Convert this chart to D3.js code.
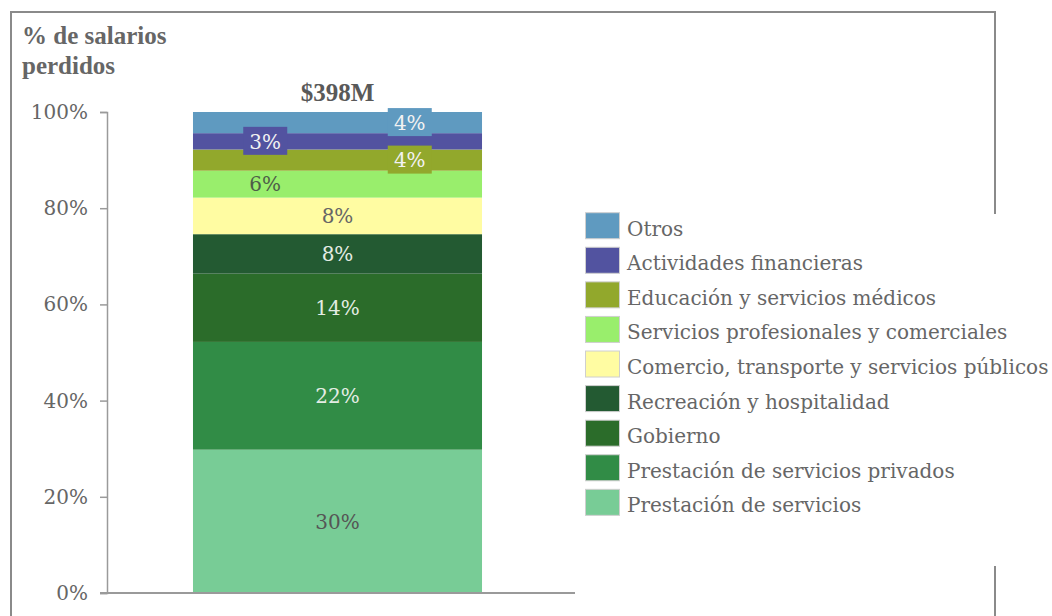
<!DOCTYPE html>
<html>
<head>
<meta charset="utf-8">
<script src="https://cdn.jsdelivr.net/npm/d3@7"></script>
<style>
  html, body { margin: 0; padding: 0; background: #fff; }
  svg { display: block; }
  text { font-family: "DejaVu Serif", "Liberation Serif", serif; }
  .bold { font-family: "Liberation Serif", "DejaVu Serif", serif; font-weight: bold; }
</style>
</head>
<body>
<svg id="chart" width="1052" height="616"></svg>
<script>
// ---- data (bottom of stack first) ----
const categories = [
  "Prestación de servicios",
  "Prestación de servicios privados",
  "Gobierno",
  "Recreación y hospitalidad",
  "Comercio, transporte y servicios públicos",
  "Servicios profesionales y comerciales",
  "Educación y servicios médicos",
  "Actividades financieras",
  "Otros"
];
const values = [29.8, 22.4, 14.2, 8.2, 7.6, 5.6, 4.4, 3.4, 4.4];
const colors = ["#78cc96", "#318c46", "#2b6c2a", "#235a32", "#fffca2", "#99ee6c", "#92a82c", "#5253a0", "#5f9ac0"];
const labelColors = ["#555555", "#e4ece4", "#e4ece4", "#e4ece4", "#666666", "#4e5e48", "#f2f2f2", "#f2f2f2", "#f2f2f2"];
// label placement: 0 = centre, -1 = left, 1 = right; boxed labels get a background
const labelSide = [0, 0, 0, 0, 0, -1, 1, -1, 1];
const labelBoxed = [false, false, false, false, false, false, true, true, true];
const barNames = ["$398M"];
const yTickValues = [0, 20, 40, 60, 80, 100];
const yTitle = ["% de salarios", "perdidos"];

// ---- layout ----
const svg = d3.select("#chart");
const gray = "#666666";

const y = d3.scaleLinear().domain([0, 100]).range([593, 112]);
const x = d3.scaleBand().domain(barNames).range([100, 575]).padding(0.2434);

// outer frame
svg.append("path")
  .attr("d", "M11,616 L11,12 L995,12 L995,616")
  .attr("fill", "none")
  .attr("stroke", "#8a8a8a")
  .attr("stroke-width", 2);

// stack
let acc = 0;
const segs = values.map((v, i) => {
  const s = { i, name: categories[i], v, y0: acc, y1: acc + v };
  acc += v;
  return s;
});

const bar = svg.append("g");
bar.selectAll("rect")
  .data(segs)
  .join("rect")
  .attr("x", x(barNames[0]))
  .attr("width", x.bandwidth())
  .attr("y", d => y(d.y1))
  .attr("height", d => y(d.y0) - y(d.y1))
  .attr("fill", d => colors[d.i]);

// y axis
const yAxis = d3.axisLeft(y)
  .tickValues(yTickValues)
  .tickFormat(d => d + "%")
  .tickSize(7)
  .tickSizeOuter(7)
  .tickPadding(12);
const gy = svg.append("g").attr("transform", "translate(107,0)").call(yAxis);
gy.selectAll("path, line").attr("stroke", "#9a9a9a").attr("stroke-width", 1.5);
gy.selectAll("text")
  .attr("fill", gray)
  .style("font-family", "'DejaVu Serif', serif")
  .style("font-size", "20px");

// baseline
svg.append("line")
  .attr("x1", x.range()[0]).attr("x2", x.range()[1])
  .attr("y1", y(0)).attr("y2", y(0))
  .attr("stroke", "#9a9a9a").attr("stroke-width", 2);

// segment labels
const lx = d => x(barNames[0]) + x.bandwidth() * (0.5 + 0.25 * labelSide[d.i]);
const ly = d => (y(d.y0) + y(d.y1)) / 2;
const lab = svg.append("g");
lab.selectAll("rect")
  .data(segs.filter(d => labelBoxed[d.i]))
  .join("rect")
  .attr("x", d => lx(d) - 22)
  .attr("y", d => ly(d) - 14.5)
  .attr("width", 44)
  .attr("height", 28)
  .attr("fill", d => colors[d.i]);
lab.selectAll("text")
  .data(segs)
  .join("text")
  .attr("x", lx)
  .attr("y", ly)
  .attr("dy", "0.36em")
  .attr("text-anchor", "middle")
  .attr("fill", d => labelColors[d.i])
  .style("font-size", "20px")
  .text(d => Math.round(d.v) + "%");

// total label
svg.append("text")
  .attr("class", "bold")
  .attr("x", x(barNames[0]) + x.bandwidth() / 2)
  .attr("y", 101)
  .attr("text-anchor", "middle")
  .attr("fill", "#595959")
  .style("font-size", "25px")
  .text(barNames[0]);

// y title
svg.append("g").selectAll("text")
  .data(yTitle)
  .join("text")
  .attr("class", "bold")
  .attr("x", 22)
  .attr("y", (d, i) => 44 + i * 30)
  .attr("fill", gray)
  .style("font-size", "25px")
  .text(d => d);

// legend (white panel covers the frame)
const legendOrder = categories.slice().reverse();
svg.append("rect")
  .attr("x", 575).attr("y", 214).attr("width", 477).attr("height", 352)
  .attr("fill", "#fff");
const ly2 = d3.scaleBand().domain(legendOrder).range([212.7, 212.7 + 8.752 * 34.58]).paddingInner(0.248).paddingOuter(0);
const leg = svg.append("g");
const items = leg.selectAll("g")
  .data(legendOrder)
  .join("g")
  .attr("transform", d => `translate(0,${ly2(d)})`);
items.append("rect")
  .attr("x", 585.5).attr("y", 0)
  .attr("width", 34).attr("height", ly2.bandwidth())
  .attr("fill", d => colors[categories.indexOf(d)])
  .attr("stroke", "#cfcfcf").attr("stroke-width", 1);
items.append("text")
  .attr("x", 627)
  .attr("y", 23)
  .attr("fill", gray)
  .style("font-size", "20px")
  .text(d => d);
</script>
</body>
</html>
